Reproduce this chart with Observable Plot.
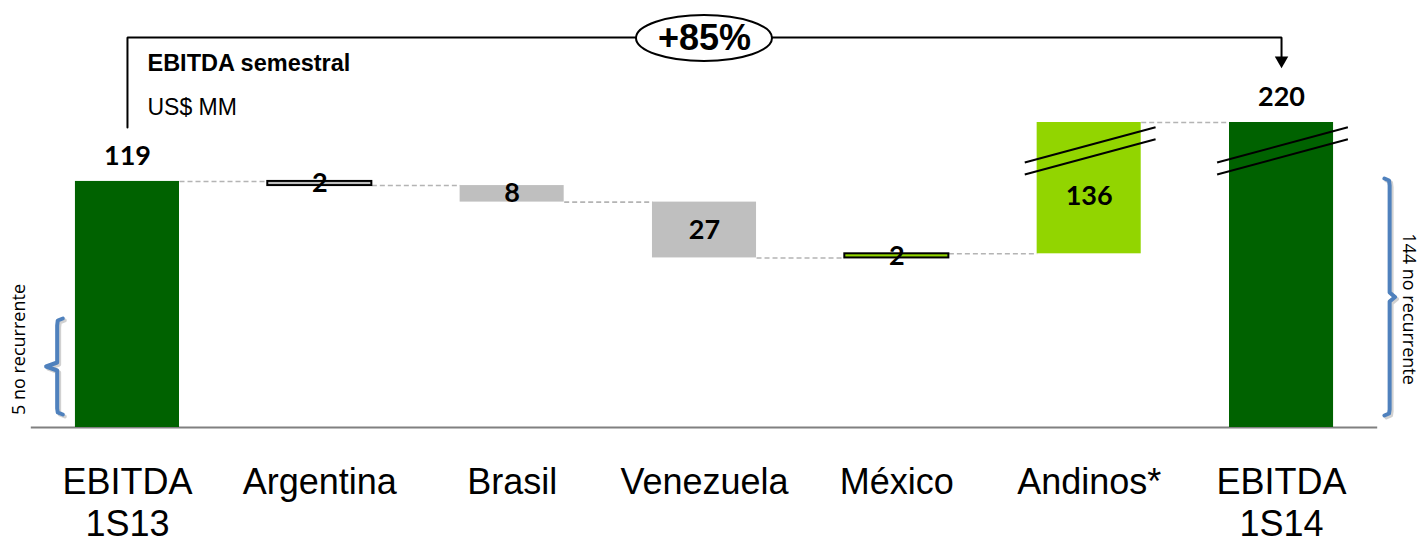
<!DOCTYPE html>
<html>
<head>
<meta charset="utf-8">
<script src="https://cdn.jsdelivr.net/npm/d3@7"></script>
<script src="https://cdn.jsdelivr.net/npm/@observablehq/plot@0.6"></script>
<style>
  html, body { margin: 0; padding: 0; background: #fff; }
  #chart svg { display: block; }
</style>
</head>
<body>
<div id="chart"></div>
<script>
// ---- data ----
const categories = ["EBITDA\n1S13", "Argentina", "Brasil", "Venezuela", "México", "Andinos*", "EBITDA\n1S14"];
const values = [119, -2, -8, -27, 2, 136, 220];
const kinds = ["total", "delta", "delta", "delta", "delta", "delta", "total"];
const valueLabels = ["119", "2", "8", "27", "2", "136", "220"];
const growthLabel = "+85%";
const titleText = "EBITDA semestral";
const unitText = "US$ MM";
const noteLeft = "5 no recurrente";
const noteRight = "144 no recurrente";

// ---- axis break: values above BREAK_AT are drawn shifted down by BREAK_GAP ----
const BREAK_AT = 150, BREAK_GAP = 72.5;
const brk = v => (v > BREAK_AT ? v - BREAK_GAP : v);

// build waterfall rows
let run = 0;
const rows = categories.map((c, i) => {
  let start, end;
  if (kinds[i] === "total") { start = 0; end = values[i]; }
  else { start = run; end = run + values[i]; }
  run = end;
  return { i, cat: c, value: values[i], kind: kinds[i], start, end, label: valueLabels[i] };
});
const connectors = rows.slice(0, -1).map(r => ({ i: r.i, level: r.end }));
const broken = rows.filter(r => r.end > BREAK_AT);

// layout helpers
const W = 1420, H = 543;
const mTop = 122, mBottom = 116;
const yMax = 147.5;
const pxPerUnit = (H - mBottom - mTop) / yMax;
const py = px => (H - mBottom - px) / pxPerUnit;    // pixel row -> y units
const HW = 0.2705;                                   // half bar width (x units)

const darkGreen = "#006200", lime = "#92d500", grey = "#bfbfbf", blue = "#4f81bd";
const fillOf = r => r.kind === "total" ? darkGreen : (r.value > 0 ? lime : grey);
const numFont = "Lato, 'Open Sans', sans-serif";
const sans = "'Liberation Sans', Arial, sans-serif";

const bracketLeft = [
  { x: -0.336, y: py(318) }, { x: -0.3625, y: py(320) }, { x: -0.3655, y: py(325) }, { x: -0.3655, y: py(362) },
  { x: -0.423, y: py(366) }, { x: -0.3655, y: py(370) }, { x: -0.3655, y: py(408) }, { x: -0.3625, y: py(412) }, { x: -0.336, y: py(414) }
];
const bracketRight = [
  { x: 6.535, y: py(178) }, { x: 6.559, y: py(180) }, { x: 6.562, y: py(185) }, { x: 6.562, y: py(292) },
  { x: 6.59, y: py(296.5) }, { x: 6.562, y: py(301) }, { x: 6.562, y: py(409) }, { x: 6.559, y: py(413) }, { x: 6.535, y: py(415) }
];

const chart = Plot.plot({
  width: W,
  height: H,
  marginLeft: 30.8,
  marginRight: 42.8,
  marginTop: mTop,
  marginBottom: mBottom,
  x: { domain: [-0.5, 6.5] },
  y: { domain: [0, yMax], axis: null },
  style: { background: "#fff", color: "#000", overflow: "visible" },
  marks: [
    // baseline
    Plot.ruleY([0], { stroke: "#808080", strokeWidth: 2 }),
    // connectors
    Plot.link(connectors, {
      x1: d => d.i + HW, x2: d => d.i + 1 - HW,
      y1: d => brk(d.level), y2: d => brk(d.level),
      stroke: "#b4b4b4", strokeWidth: 1.6, strokeDasharray: "5,3"
    }),
    // bars
    Plot.rect(rows, {
      x1: d => d.i - HW, x2: d => d.i + HW,
      y1: d => brk(d.start), y2: d => brk(d.end),
      fill: fillOf,
      stroke: d => Math.abs(d.value) < 3 ? "#000" : "none",
      strokeWidth: 2
    }),
    // break marks
    Plot.link(broken, { x1: d => d.i - 0.335, x2: d => d.i + 0.345, y1: py(162), y2: py(126.7), stroke: "#000", strokeWidth: 2 }),
    Plot.link(broken, { x1: d => d.i - 0.335, x2: d => d.i + 0.345, y1: py(174), y2: py(138.7), stroke: "#000", strokeWidth: 2 }),
    // value labels: totals above bars
    Plot.text(rows.filter(r => r.kind === "total"), {
      x: "i", y: d => brk(d.end), text: "label", dy: -25,
      fontSize: 27, fontWeight: "bold", fontFamily: numFont, fill: "#000", lineAnchor: "middle"
    }),
    // value labels: deltas centred (label of a broken bar sits a little lower)
    Plot.text(rows.filter(r => r.kind === "delta"), {
      x: "i", y: d => (brk(d.start) + brk(d.end)) / 2 - (d.end > BREAK_AT ? 8 / pxPerUnit : 0), text: "label",
      fontSize: 27, fontWeight: "bold", fontFamily: numFont, fill: "#000", lineAnchor: "middle"
    }),
    // x axis labels
    Plot.axisX(d3.range(categories.length), {
      tickFormat: i => categories[i], tickSize: 0, tickPadding: 36,
      fontSize: 36, fontFamily: sans,
      lineHeight: 1.18, lineAnchor: "top", fill: "#000", label: null
    }),
    // growth annotation line
    Plot.line([{ x: 0, y: py(127) }, { x: 0, y: py(37) }, { x: 6, y: py(37) }, { x: 6, y: py(57) }], {
      x: "x", y: "y", stroke: "#000", strokeWidth: 2, strokeLinejoin: "miter"
    }),
    Plot.dot([{ x: 6, y: py(60) }], { x: "x", y: "y", symbol: "triangle", r: 5, rotate: 180, fill: "#000", stroke: "none" }),
    // ellipse
    (index, { x, y }) => {
      const g = d3.create("svg:g");
      g.append("ellipse")
        .attr("cx", x(3)).attr("cy", y(py(38)))
        .attr("rx", 68).attr("ry", 23)
        .attr("fill", "#fff").attr("stroke", "#000").attr("stroke-width", 2);
      return g.node();
    },
    Plot.text([growthLabel], {
      x: 3, y: py(38), text: d => d, fontSize: 36, fontWeight: "bold",
      fontFamily: sans, fill: "#000", lineAnchor: "middle"
    }),
    // title & unit
    Plot.text([titleText], {
      x: (147 - 127) / 192.33, y: py(63.3), text: d => d, textAnchor: "start", lineAnchor: "middle",
      fontSize: 23.5, fontWeight: "bold", fontFamily: sans, fill: "#000"
    }),
    Plot.text([unitText], {
      x: (147 - 127) / 192.33, y: py(106.7), text: d => d, textAnchor: "start", lineAnchor: "middle",
      fontSize: 23, fontFamily: sans, fill: "#000"
    }),
    // brackets (shadow + line)
    Plot.line(bracketLeft, { x: "x", y: "y", stroke: "#000", strokeOpacity: 0.18, strokeWidth: 4, dx: 2, dy: 2, strokeLinejoin: "round", strokeLinecap: "round" }),
    Plot.line(bracketLeft, { x: "x", y: "y", stroke: blue, strokeWidth: 4, strokeLinejoin: "round", strokeLinecap: "round" }),
    Plot.line(bracketRight, { x: "x", y: "y", stroke: "#000", strokeOpacity: 0.18, strokeWidth: 4, dx: 2, dy: 2, strokeLinejoin: "round", strokeLinecap: "round" }),
    Plot.line(bracketRight, { x: "x", y: "y", stroke: blue, strokeWidth: 4, strokeLinejoin: "round", strokeLinecap: "round" }),
    // bracket notes
    Plot.text([noteLeft], {
      x: (18.3 - 127) / 192.33, y: py(349), text: d => d, rotate: -90,
      fontSize: 18, fontFamily: "'Open Sans', sans-serif", fill: "#000", lineAnchor: "middle"
    }),
    Plot.text([noteRight], {
      x: (1408 - 127) / 192.33, y: py(308.5), text: d => d, rotate: 90,
      fontSize: 18, fontFamily: "'Open Sans', sans-serif", fill: "#000", lineAnchor: "middle"
    })
  ]
});
document.getElementById("chart").appendChild(chart);
</script>
</body>
</html>
